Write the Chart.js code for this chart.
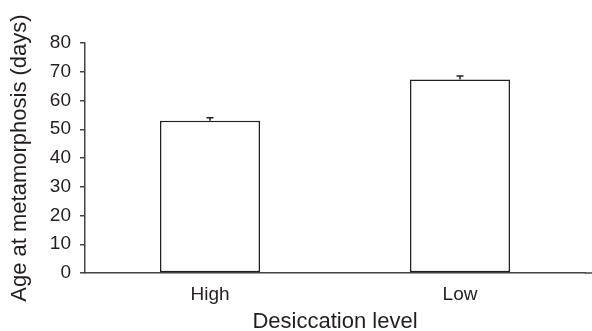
<!DOCTYPE html>
<html>
<head>
<meta charset="utf-8">
<script src="https://cdn.jsdelivr.net/npm/chart.js@4/dist/chart.umd.min.js"></script>
<style>
  body { margin: 0; background: #fff; }
  #wrap { width: 592px; height: 331px; }
</style>
</head>
<body>
<div id="wrap"><canvas id="chart" width="592" height="331"></canvas></div>
<script>
// data
var categories = ["High", "Low"];
var ageValues = [53.0, 67.3];
var ageErrors = [1.0, 1.2];
var yTicks = [0, 10, 20, 30, 40, 50, 60, 70, 80];

var textColor = "#231f20";
var axisColor = "#444";
var fontFamily = "'Liberation Sans', Arial, Helvetica, sans-serif";

// one-sided error bars (upper only), as in the original
var errorBarPlugin = {
    id: "errorBars",
    afterDatasetsDraw: function(chart) {
        var ctx = chart.ctx;
        var meta = chart.getDatasetMeta(0);
        var yScale = chart.scales.y;
        ctx.save();
        ctx.strokeStyle = textColor;
        ctx.lineWidth = 1.5;
        meta.data.forEach(function(bar, i) {
            var x = bar.x;
            var yTop = yScale.getPixelForValue(ageValues[i] + ageErrors[i]);
            var yBase = yScale.getPixelForValue(ageValues[i]);
            ctx.beginPath();
            ctx.moveTo(x, yBase);
            ctx.lineTo(x, yTop);
            ctx.moveTo(x - 3.5, yTop);
            ctx.lineTo(x + 3.5, yTop);
            ctx.stroke();
        });
        ctx.restore();
    }
};

// x axis line runs on to the right edge of the figure
var axisExtendPlugin = {
    id: "axisExtend",
    afterDraw: function(chart) {
        var ctx = chart.ctx;
        var a = chart.chartArea;
        ctx.save();
        ctx.strokeStyle = axisColor;
        ctx.lineWidth = 1.5;
        ctx.beginPath();
        ctx.moveTo(a.right, a.bottom);
        ctx.lineTo(chart.width, a.bottom);
        ctx.stroke();
        ctx.restore();
    }
};

var ctx = document.getElementById("chart").getContext("2d");
var myChart = new Chart(ctx, {
    type: "bar",
    data: {
        labels: categories,
        datasets: [{
            data: ageValues,
            backgroundColor: "#fff",
            borderColor: textColor,
            borderWidth: 1.5,
            borderSkipped: false,
            barPercentage: 0.4,
            categoryPercentage: 1.0
        }]
    },
    options: {
        responsive: false,
        animation: false,
        layout: {
            padding: { top: 43, right: 7, bottom: 0, left: 0 }
        },
        plugins: {
            legend: { display: false },
            tooltip: { enabled: false }
        },
        scales: {
            x: {
                grid: { display: false, drawTicks: false },
                border: { display: true, color: axisColor, width: 1.5 },
                ticks: {
                    color: textColor,
                    padding: 10,
                    font: { family: fontFamily, size: 19 }
                },
                title: {
                    display: true,
                    text: "Desiccation level",
                    color: textColor,
                    padding: { top: 0, bottom: 0 },
                    font: { family: fontFamily, size: 22, lineHeight: 0.8 }
                },
                afterFit: function(scale) { scale.height = 58; }
            },
            y: {
                min: yTicks[0],
                max: yTicks[yTicks.length - 1],
                grid: {
                    drawOnChartArea: false,
                    drawTicks: true,
                    tickLength: 5,
                    color: axisColor,
                    lineWidth: 1.5
                },
                border: { display: true, color: axisColor, width: 1.5 },
                ticks: {
                    stepSize: 10,
                    color: textColor,
                    padding: 9,
                    font: { family: fontFamily, size: 19 }
                },
                title: {
                    display: true,
                    text: "Age at metamorphosis (days)",
                    color: textColor,
                    padding: { top: 7, bottom: 0 },
                    font: { family: fontFamily, size: 22 }
                },
                afterFit: function(scale) { scale.width = 85; }
            }
        }
    },
    plugins: [errorBarPlugin, axisExtendPlugin]
});
</script>
</body>
</html>
